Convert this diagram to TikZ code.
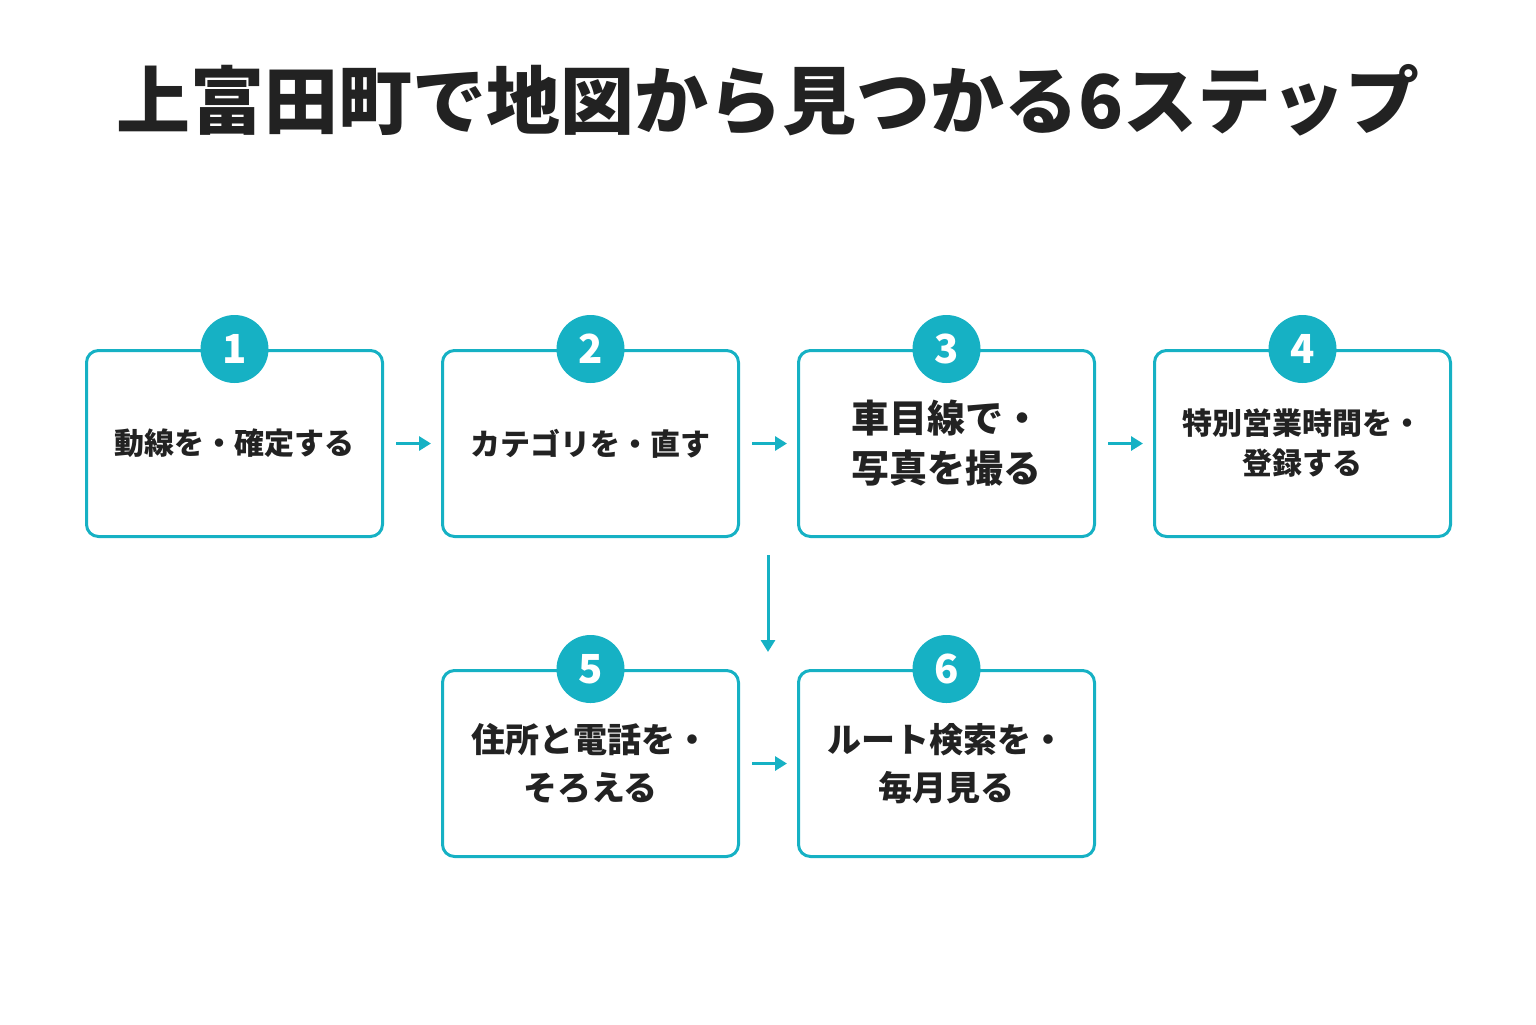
\documentclass[tikz,border=0pt]{standalone}
\usepackage{fontspec}
\setmainfont{Noto Sans CJK JP}
\usetikzlibrary{arrows.meta}
\definecolor{myteal}{HTML}{16B1C4}
\definecolor{mydark}{HTML}{222222}
\tikzset{>={Triangle[length=6pt,width=7pt]}}
\tikzset{stepbox/.style={draw=myteal, line width=1.5pt, rounded corners=6pt, minimum width=148pt, minimum height=93pt, align=center, text=mydark, font=\bfseries\fontsize{15}{20}\selectfont},
  badge/.style={circle, fill=myteal, minimum size=34pt, inner sep=0pt, text=white, font=\bfseries\fontsize{20}{20}\selectfont},
  flow/.style={->, myteal, line width=1.5pt}}
\begin{document}
\begin{tikzpicture}[x=0.5pt,y=-0.5pt]
			\useasboundingbox (0,0) rectangle (1536,1024);
			\node[text=mydark, font=\bfseries\fontsize{37}{40}\selectfont] (title) at (768,100) {上富田町で地図から見つかる6ステップ};
			\node[stepbox] (s1) at (234.5,443.5) {動線を・確定する};
			\node[stepbox] (s2) at (590.5,443.5) {カテゴリを・直す};
			\node[stepbox, font=\bfseries\fontsize{19}{25}\selectfont] (s3) at (946.5,443.5) {車目線で・\\写真を撮る};
			\node[stepbox] (s4) at (1302.5,443.5) {特別営業時間を・\\登録する};
			\node[stepbox, font=\bfseries\fontsize{17}{24}\selectfont] (s5) at (590.5,763.5) {住所と電話を・\\そろえる};
			\node[stepbox, font=\bfseries\fontsize{17}{24}\selectfont] (s6) at (946.5,763.5) {ルート検索を・\\毎月見る};
			\node[badge] (b1) at (s1.north) {1};
			\node[badge] (b2) at (s2.north) {2};
			\node[badge] (b3) at (s3.north) {3};
			\node[badge] (b4) at (s4.north) {4};
			\node[badge] (b5) at (s5.north) {5};
			\node[badge] (b6) at (s6.north) {6};
			\coordinate (v1) at (768,555);
			\coordinate (v2) at (768,652);
			\draw[flow] ([xshift=6pt]s1.east) -- ([xshift=-5pt]s2.west);
			\draw[flow] ([xshift=6pt]s2.east) -- ([xshift=-5pt]s3.west);
			\draw[flow] ([xshift=6pt]s3.east) -- ([xshift=-5pt]s4.west);
			\draw[flow] (v1) -- (v2);
			\draw[flow] ([xshift=6pt]s5.east) -- ([xshift=-5pt]s6.west);
		\end{tikzpicture}
\end{document}
